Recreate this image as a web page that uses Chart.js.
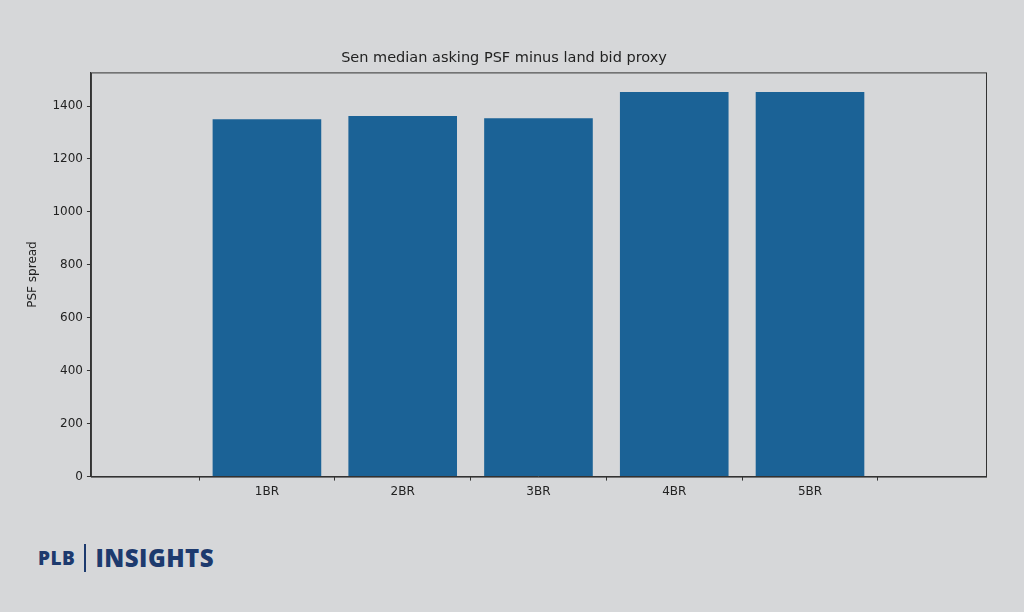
<!DOCTYPE html>
<html><head><meta charset="utf-8">
<script src="https://cdn.jsdelivr.net/npm/chart.js@4"></script>
<style>
html,body{margin:0;padding:0;background:#d6d7d9;width:1024px;height:612px;overflow:hidden;font-family:"DejaVu Sans",sans-serif}
#wrap{position:absolute;left:0;top:0;width:1024px;height:503px}
#logo{position:absolute;left:38px;top:541px;color:#1d3a6e;font-family:"Open Sans",sans-serif;font-weight:800;display:flex;align-items:center}
#logo .a{font-size:19px;letter-spacing:0.5px}
#logo .bar{width:2px;height:28px;background:#1d3a6e;margin:0 9px}
#logo .b{font-size:24px;letter-spacing:0.5px}
</style></head><body>
<div id="wrap"><canvas id="c"></canvas></div>
<div id="logo"><span class="a">PLB</span><span class="bar"></span><span class="b">INSIGHTS</span></div>
<script>
const categories=["1BR","2BR","3BR","4BR","5BR"];
const values=[1350,1362,1354,1453,1453];
const yTicks=[0,200,400,600,800,1000,1200,1400];
const frame={id:'frame',afterDraw(ch){const a=ch.chartArea,c=ch.ctx;c.save();c.strokeStyle='#333';c.lineWidth=1;c.strokeRect(a.left+0.5,a.top+0.5,a.right-a.left,a.bottom-a.top);c.restore();}};
new Chart(document.getElementById('c'),{type:'bar',
data:{datasets:[{data:values.map((v,i)=>({x:i,y:v})),backgroundColor:'#1b6296',barPercentage:0.8,categoryPercentage:1}]},
options:{responsive:true,maintainAspectRatio:false,animation:false,
layout:{padding:{left:22,right:38,top:0,bottom:0}},
plugins:{legend:{display:false},tooltip:{enabled:false},
title:{display:true,text:'Sen median asking PSF minus land bid proxy',color:'#222',font:{family:'DejaVu Sans',size:14.5,weight:'normal'},padding:{top:50,bottom:5}}},
scales:{
x:{type:'linear',min:-0.637,max:4.637,afterBuildTicks(ax){ax.ticks=categories.map((c,i)=>({value:i}));},
grid:{display:true,drawOnChartArea:false,tickLength:4,color:'#333'},border:{color:'#333'},
ticks:{color:'#222',font:{family:'DejaVu Sans',size:12},padding:4,callback:(v)=>categories[v]}},
y:{min:0,max:1527,afterBuildTicks(ax){ax.ticks=yTicks.map(v=>({value:v}));},
grid:{display:true,drawOnChartArea:false,tickLength:4,color:'#333'},border:{color:'#333'},
ticks:{color:'#222',font:{family:'DejaVu Sans',size:12},padding:4,callback:(v)=>String(v)},
title:{display:true,text:'PSF spread',color:'#222',font:{family:'DejaVu Sans',size:12},padding:{bottom:8}}}}},
plugins:[frame]});
</script></body></html>
